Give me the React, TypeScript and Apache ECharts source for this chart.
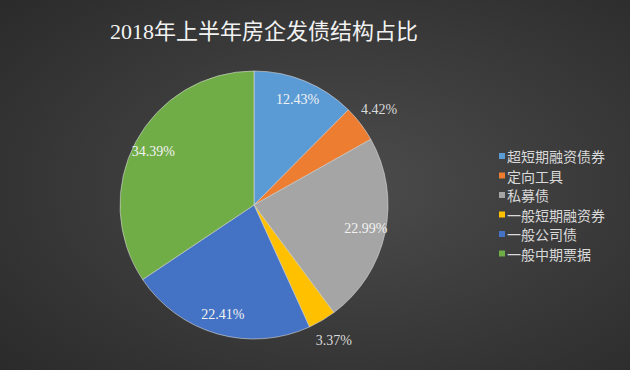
import React, { useEffect, useRef } from "react";
import * as echarts from "echarts";

const titleText = "2018年上半年房企发债结构占比";
const categories = ["超短期融资债券", "定向工具", "私募债", "一般短期融资券", "一般公司债", "一般中期票据"];
const values = [12.43, 4.42, 22.99, 3.37, 22.41, 34.39];
const colors = ["#5B9BD5", "#ED7D31", "#A5A5A5", "#FFC000", "#4472C4", "#70AD47"];
const outsideLabel = [false, true, false, true, false, false];

const CX = 254;
const CY = 205;
const R = 134;

export default function App() {
  const ref = useRef<HTMLDivElement>(null);
  useEffect(() => {
    document.body.style.margin = "0";
    const chart = echarts.init(ref.current!, undefined, { renderer: "svg" });
    const fmt = (p: any) => p.value.toFixed(2) + "%";
    const overlay = (radius: [number, number], showOuter: boolean, color: string) => ({
      type: "pie",
      center: [CX, CY],
      radius,
      startAngle: 90,
      clockwise: true,
      silent: true,
      legendHoverLink: false,
      z: 5,
      itemStyle: { color: "rgba(0,0,0,0)", borderWidth: 0 },
      labelLine: { show: false },
      emphasis: { disabled: true },
      data: categories.map((name, i) => ({
        name,
        value: values[i],
        label: {
          show: outsideLabel[i] === showOuter,
          position: "inside",
          formatter: fmt,
          color,
          fontSize: 14,
          fontFamily: "Liberation Serif, Noto Sans CJK SC",
        },
      })),
    });
    chart.setOption({
      animation: false,
      backgroundColor: {
        type: "radial",
        x: 0.55,
        y: 0.5,
        r: 0.75,
        colorStops: [
          { offset: 0, color: "#4c4c4c" },
          { offset: 1, color: "#2a2a2a" },
        ],
      },
      title: {
        text: titleText,
        left: 259,
        top: 15,
        textAlign: "center",
        textStyle: {
          color: "#f2f2f2",
          fontSize: 22,
          fontWeight: "normal",
          fontFamily: "Liberation Serif, Noto Sans CJK SC",
        },
      },
      legend: {
        orient: "vertical",
        left: 494,
        top: 144,
        itemWidth: 6,
        itemHeight: 6,
        itemGap: 5.5,
        icon: "rect",
        itemStyle: { borderWidth: 0 },
        textStyle: {
          color: "#d9d9d9",
          fontSize: 14,
          lineHeight: 14,
          fontFamily: "Noto Sans CJK SC",
          padding: [0, 0, 0, -3],
        },
        data: categories.map((name, i) => ({ name, itemStyle: { color: colors[i], borderWidth: 0 } })),
        selectedMode: false,
      },
      series: [
        {
          type: "pie",
          name: "main",
          center: [CX, CY],
          radius: [0, R],
          startAngle: 90,
          clockwise: true,
          z: 2,
          label: { show: false },
          labelLine: { show: false },
          itemStyle: { borderColor: "#d8d8d8", borderWidth: 0.6 },
          emphasis: { disabled: true },
          data: categories.map((name, i) => ({
            name,
            value: values[i],
            itemStyle: { color: colors[i] },
          })),
        },
        overlay([R * 0.66, R], false, "#f2f2f2"),
        overlay([R, R * 1.3], true, "#d9d9d9"),
      ],
    });
    return () => chart.dispose();
  }, []);
  return <div ref={ref} style={{ width: 630, height: 370 }} />;
}
